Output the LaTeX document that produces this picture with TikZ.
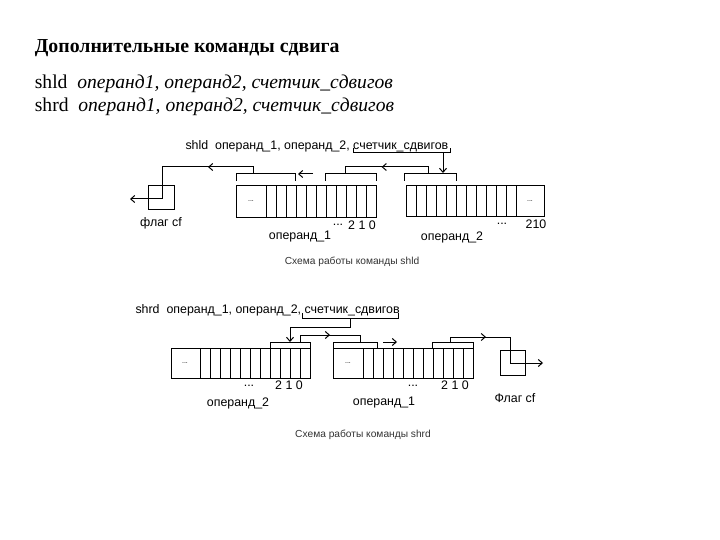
\documentclass[tikz,border=0pt]{standalone}
\usepackage{fontspec}
\setmainfont{Liberation Serif}
\setsansfont{Liberation Sans}
\usetikzlibrary{calc,arrows,arrows.meta,positioning,decorations.markings}

\begin{document}
\begin{tikzpicture}[x=1pt, y=-1pt, line width=1pt, >={Straight Barb[length=4pt,width=7pt]},
   lbl/.style={font=\sffamily\fontsize{12.4}{14}\selectfont, inner sep=1pt},
   captxt/.style={font=\sffamily\fontsize{10.2}{12}\selectfont, text=black!80, inner sep=1pt},
   regbox/.style={draw, line width=1pt},
   midarrow/.style={postaction={decorate}, decoration={markings, mark=at position #1 with {\arrow{>}}}}]
   \useasboundingbox[fill=white] (0,0) rectangle (720,540);

   %heading
   \node[anchor=west, font=\bfseries\fontsize{19.8}{22}\selectfont] (title) at (31,48) {Дополнительные команды сдвига};
   \node[anchor=west, font=\fontsize{19.6}{22}\selectfont] (cmdl) at (31,84) {shld\ \ \textit{операнд1, операнд2, счетчик\_сдвигов}};
   \node[anchor=west, font=\fontsize{19.6}{22}\selectfont] (cmdr) at (31,107) {shrd\ \ \textit{операнд1, операнд2, счетчик\_сдвигов}};

   %scheme shld
   \node[lbl, anchor=west] (hdl) at (184,146) {shld\ \ операнд\_1, операнд\_2, счетчик\_сдвигов};
   \draw (353,148) -- (353,153) -- (450,153) -- (450,148);
   \coordinate (cntl) at (443,153);
   \coordinate (cntlend) at (443,173);

   % operand_1
   \draw[regbox] (236,186) rectangle (376,218);
   \foreach \x in {266,276,...,366} \draw (\x,186) -- (\x,218);
   \draw (236,181) -- (236,174) -- (295,174) -- (295,181);
   \draw (325,181) -- (325,174) -- (376,174) -- (376,181);
   % operand_2
   \draw[regbox] (406,186) rectangle (544,217);
   \foreach \x in {416,426,...,516} \draw (\x,186) -- (\x,217);
   \draw (404,181) -- (404,174) -- (456,174) -- (456,181);
   % flag
   \draw[regbox] (148,186) rectangle (174,210);

   \node[font=\sffamily\fontsize{7}{8}\selectfont] (d1l) at (251,201) {...};
   \node[font=\sffamily\fontsize{7}{8}\selectfont] (d2l) at (530,201) {...};
   \node[lbl] (p1l) at (338,225) {...};
   \node[lbl] (b1l) at (362,225) {2 1 0};
   \node[lbl] (p2l) at (502,224) {...};
   \node[lbl] (b2l) at (536,224) {210};
   \node[lbl] (op1l) at (300,237) {операнд\_1};
   \node[lbl] (op2l) at (452,237) {операнд\_2};
   \node[lbl] (cfl) at (161,223) {флаг cf};
   \node[captxt] (capl) at (352,262) {Схема работы команды shld};

   \coordinate (s1a) at (428,174);
   \coordinate (s1t) at (428,167);
   \coordinate (s1b) at (345,174);
   \coordinate (s2a) at (253,174);
   \coordinate (s2t) at (253,167);
   \coordinate (flin) at (162,199);
   \coordinate (flout) at (130,199);
   \coordinate (fa) at (313,174);
   \coordinate (fb) at (298,174);

   \draw[->] (cntl) -- (cntlend);
   \draw[midarrow=0.55] (s1a) -- (s1t) -| (s1b);
   \draw[midarrow=0.4] (s2a) -- (s2t) -| (flin);
   \draw[->] (flin) -- (flout);
   \draw[->] (fa) -- (fb);

   %scheme shrd
   \node[lbl, anchor=west] (hdr) at (134,310) {shrd\ \ операнд\_1, операнд\_2, счетчик\_сдвигов};
   \draw (302,313) -- (302,318) -- (398,318) -- (398,313);
   \coordinate (cntr) at (350,318);
   \coordinate (cntrt) at (350,327);
   \coordinate (cntrend) at (290,342);

   % operand_2
   \draw[regbox] (171,348) rectangle (310,378);
   \foreach \x in {200,210,...,300} \draw (\x,348) -- (\x,378);
   \draw (270,348) -- (270,342) -- (310,342) -- (310,348);
   % operand_1
   \draw[regbox] (333,348) rectangle (473,378);
   \foreach \x in {363,373,...,463} \draw (\x,348) -- (\x,378);
   \draw (333,348) -- (333,342) -- (377,342) -- (377,348);
   \draw (432,348) -- (432,342) -- (473,342) -- (473,348);
   % flag
   \draw[regbox] (500,350) rectangle (525,375);

   \node[font=\sffamily\fontsize{7}{8}\selectfont] (d2r) at (185,363) {...};
   \node[font=\sffamily\fontsize{7}{8}\selectfont] (d1r) at (348,363) {...};
   \node[lbl] (p2r) at (249,386) {...};
   \node[lbl] (b2r) at (289,385) {2 1 0};
   \node[lbl] (p1r) at (413,386) {...};
   \node[lbl] (b1r) at (455,385) {2 1 0};
   \node[lbl] (op2r) at (238,403) {операнд\_2};
   \node[lbl] (op1r) at (384,403) {операнд\_1};
   \node[lbl] (cfr) at (515,398) {Флаг cf};
   \node[captxt] (capr) at (363,435) {Схема работы команды shrd};

   \coordinate (r1a) at (300,342);
   \coordinate (r1t) at (300,335);
   \coordinate (r1b) at (360,342);
   \coordinate (r2a) at (450,342);
   \coordinate (r2t) at (450,337);
   \coordinate (frin) at (510,363);
   \coordinate (frout) at (543,363);
   \coordinate (ga) at (383,342);
   \coordinate (gb) at (397,342);

   \draw[->] (cntr) -- (cntrt) -| (cntrend);
   \draw[midarrow=0.5] (r1a) -- (r1t) -| (r1b);
   \draw[midarrow=0.45] (r2a) -- (r2t) -| (frin);
   \draw[->] (frin) -- (frout);
   \draw[->] (ga) -- (gb);
\end{tikzpicture}
\end{document}
